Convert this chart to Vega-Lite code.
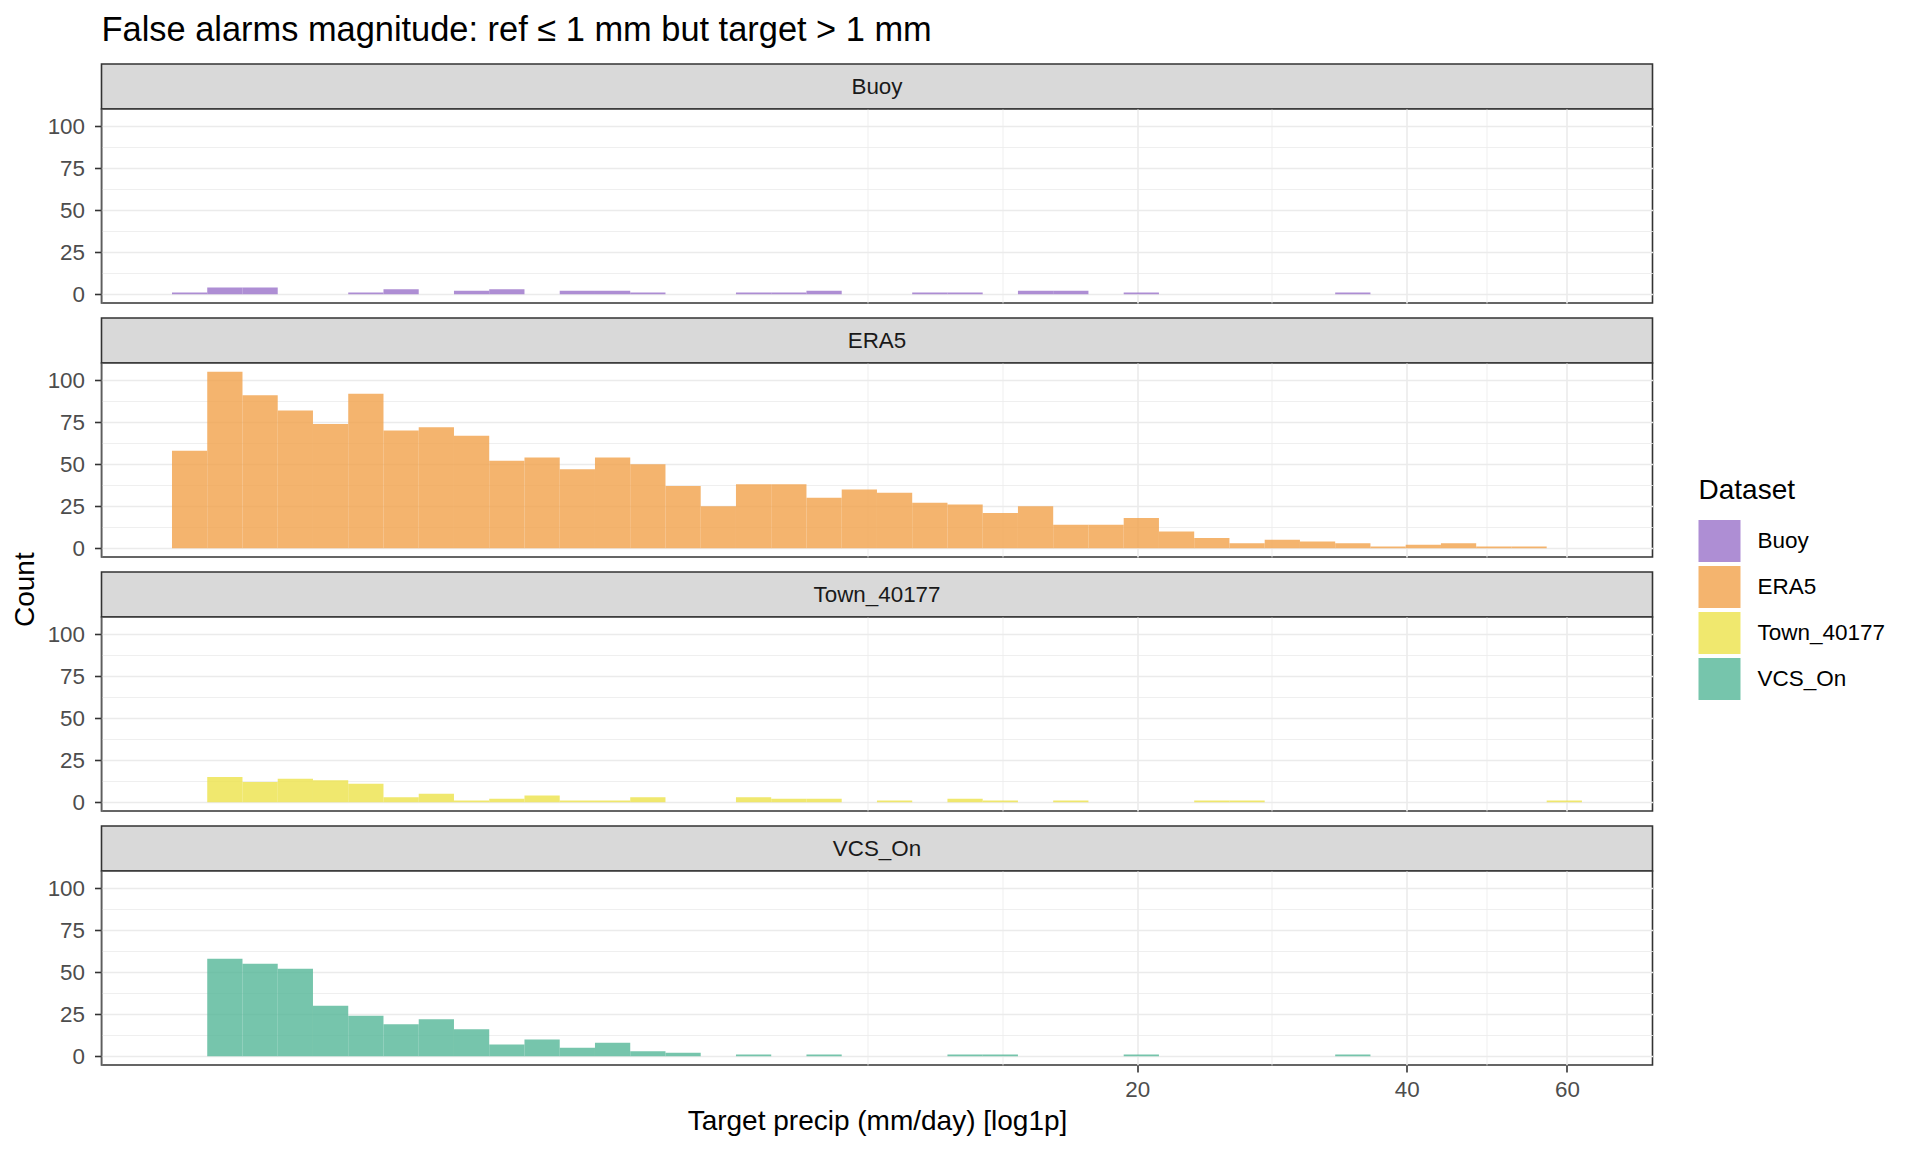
{
  "$schema": "https://vega.github.io/schema/vega-lite/v6.json",
  "padding": {"left": 11.5, "top": 12, "right": 0, "bottom": 0},
  "background": "white",
  "title": {"text": "False alarms magnitude: ref ≤ 1 mm but target > 1 mm", "anchor": "start", "frame": "group", "fontSize": 34.4, "fontWeight": "normal", "color": "black", "offset": 15},
  "datasets": {
    "bins": [
      {"Dataset": "Buoy", "x0": 0.9144, "x1": 1.0894, "count": 1},
      {"Dataset": "Buoy", "x0": 1.0894, "x1": 1.2804, "count": 4},
      {"Dataset": "Buoy", "x0": 1.2804, "x1": 1.4888, "count": 4},
      {"Dataset": "Buoy", "x0": 1.9647, "x1": 2.2357, "count": 1},
      {"Dataset": "Buoy", "x0": 2.2357, "x1": 2.5314, "count": 3},
      {"Dataset": "Buoy", "x0": 2.8542, "x1": 3.2065, "count": 2},
      {"Dataset": "Buoy", "x0": 3.2065, "x1": 3.5911, "count": 3},
      {"Dataset": "Buoy", "x0": 4.0108, "x1": 4.4688, "count": 2},
      {"Dataset": "Buoy", "x0": 4.4688, "x1": 4.9688, "count": 2},
      {"Dataset": "Buoy", "x0": 4.9688, "x1": 5.5143, "count": 1},
      {"Dataset": "Buoy", "x0": 6.7596, "x1": 7.4689, "count": 1},
      {"Dataset": "Buoy", "x0": 7.4689, "x1": 8.2430, "count": 1},
      {"Dataset": "Buoy", "x0": 8.2430, "x1": 9.0881, "count": 2},
      {"Dataset": "Buoy", "x0": 11.0164, "x1": 12.1149, "count": 1},
      {"Dataset": "Buoy", "x0": 12.1149, "x1": 13.3137, "count": 1},
      {"Dataset": "Buoy", "x0": 14.6220, "x1": 16.0501, "count": 2},
      {"Dataset": "Buoy", "x0": 16.0501, "x1": 17.6085, "count": 2},
      {"Dataset": "Buoy", "x0": 19.3097, "x1": 21.1662, "count": 1},
      {"Dataset": "Buoy", "x0": 33.3269, "x1": 36.4646, "count": 1},

      {"Dataset": "ERA5", "x0": 0.9144, "x1": 1.0894, "count": 58},
      {"Dataset": "ERA5", "x0": 1.0894, "x1": 1.2804, "count": 105},
      {"Dataset": "ERA5", "x0": 1.2804, "x1": 1.4888, "count": 91},
      {"Dataset": "ERA5", "x0": 1.4888, "x1": 1.7163, "count": 82},
      {"Dataset": "ERA5", "x0": 1.7163, "x1": 1.9647, "count": 74},
      {"Dataset": "ERA5", "x0": 1.9647, "x1": 2.2357, "count": 92},
      {"Dataset": "ERA5", "x0": 2.2357, "x1": 2.5314, "count": 70},
      {"Dataset": "ERA5", "x0": 2.5314, "x1": 2.8542, "count": 72},
      {"Dataset": "ERA5", "x0": 2.8542, "x1": 3.2065, "count": 67},
      {"Dataset": "ERA5", "x0": 3.2065, "x1": 3.5911, "count": 52},
      {"Dataset": "ERA5", "x0": 3.5911, "x1": 4.0108, "count": 54},
      {"Dataset": "ERA5", "x0": 4.0108, "x1": 4.4688, "count": 47},
      {"Dataset": "ERA5", "x0": 4.4688, "x1": 4.9688, "count": 54},
      {"Dataset": "ERA5", "x0": 4.9688, "x1": 5.5143, "count": 50},
      {"Dataset": "ERA5", "x0": 5.5143, "x1": 6.1096, "count": 37},
      {"Dataset": "ERA5", "x0": 6.1096, "x1": 6.7596, "count": 25},
      {"Dataset": "ERA5", "x0": 6.7596, "x1": 7.4689, "count": 38},
      {"Dataset": "ERA5", "x0": 7.4689, "x1": 8.2430, "count": 38},
      {"Dataset": "ERA5", "x0": 8.2430, "x1": 9.0881, "count": 30},
      {"Dataset": "ERA5", "x0": 9.0881, "x1": 10.0101, "count": 35},
      {"Dataset": "ERA5", "x0": 10.0101, "x1": 11.0164, "count": 33},
      {"Dataset": "ERA5", "x0": 11.0164, "x1": 12.1149, "count": 27},
      {"Dataset": "ERA5", "x0": 12.1149, "x1": 13.3137, "count": 26},
      {"Dataset": "ERA5", "x0": 13.3137, "x1": 14.6220, "count": 21},
      {"Dataset": "ERA5", "x0": 14.6220, "x1": 16.0501, "count": 25},
      {"Dataset": "ERA5", "x0": 16.0501, "x1": 17.6085, "count": 14},
      {"Dataset": "ERA5", "x0": 17.6085, "x1": 19.3097, "count": 14},
      {"Dataset": "ERA5", "x0": 19.3097, "x1": 21.1662, "count": 18},
      {"Dataset": "ERA5", "x0": 21.1662, "x1": 23.1924, "count": 10},
      {"Dataset": "ERA5", "x0": 23.1924, "x1": 25.4037, "count": 6},
      {"Dataset": "ERA5", "x0": 25.4037, "x1": 27.8176, "count": 3},
      {"Dataset": "ERA5", "x0": 27.8176, "x1": 30.4515, "count": 5},
      {"Dataset": "ERA5", "x0": 30.4515, "x1": 33.3269, "count": 4},
      {"Dataset": "ERA5", "x0": 33.3269, "x1": 36.4646, "count": 3},
      {"Dataset": "ERA5", "x0": 36.4646, "x1": 39.8893, "count": 1},
      {"Dataset": "ERA5", "x0": 39.8893, "x1": 43.6277, "count": 2},
      {"Dataset": "ERA5", "x0": 43.6277, "x1": 47.7071, "count": 3},
      {"Dataset": "ERA5", "x0": 47.7071, "x1": 52.1578, "count": 1},
      {"Dataset": "ERA5", "x0": 52.1578, "x1": 57.0171, "count": 1},

      {"Dataset": "Town_40177", "x0": 1.0894, "x1": 1.2804, "count": 15},
      {"Dataset": "Town_40177", "x0": 1.2804, "x1": 1.4888, "count": 12},
      {"Dataset": "Town_40177", "x0": 1.4888, "x1": 1.7163, "count": 14},
      {"Dataset": "Town_40177", "x0": 1.7163, "x1": 1.9647, "count": 13},
      {"Dataset": "Town_40177", "x0": 1.9647, "x1": 2.2357, "count": 11},
      {"Dataset": "Town_40177", "x0": 2.2357, "x1": 2.5314, "count": 3},
      {"Dataset": "Town_40177", "x0": 2.5314, "x1": 2.8542, "count": 5},
      {"Dataset": "Town_40177", "x0": 2.8542, "x1": 3.2065, "count": 1},
      {"Dataset": "Town_40177", "x0": 3.2065, "x1": 3.5911, "count": 2},
      {"Dataset": "Town_40177", "x0": 3.5911, "x1": 4.0108, "count": 4},
      {"Dataset": "Town_40177", "x0": 4.0108, "x1": 4.4688, "count": 1},
      {"Dataset": "Town_40177", "x0": 4.4688, "x1": 4.9688, "count": 1},
      {"Dataset": "Town_40177", "x0": 4.9688, "x1": 5.5143, "count": 3},
      {"Dataset": "Town_40177", "x0": 6.7596, "x1": 7.4689, "count": 3},
      {"Dataset": "Town_40177", "x0": 7.4689, "x1": 8.2430, "count": 2},
      {"Dataset": "Town_40177", "x0": 8.2430, "x1": 9.0881, "count": 2},
      {"Dataset": "Town_40177", "x0": 10.0101, "x1": 11.0164, "count": 1},
      {"Dataset": "Town_40177", "x0": 12.1149, "x1": 13.3137, "count": 2},
      {"Dataset": "Town_40177", "x0": 13.3137, "x1": 14.6220, "count": 1},
      {"Dataset": "Town_40177", "x0": 16.0501, "x1": 17.6085, "count": 1},
      {"Dataset": "Town_40177", "x0": 23.1924, "x1": 25.4037, "count": 1},
      {"Dataset": "Town_40177", "x0": 25.4037, "x1": 27.8176, "count": 1},
      {"Dataset": "Town_40177", "x0": 57.0171, "x1": 62.3202, "count": 1},

      {"Dataset": "VCS_On", "x0": 1.0894, "x1": 1.2804, "count": 58},
      {"Dataset": "VCS_On", "x0": 1.2804, "x1": 1.4888, "count": 55},
      {"Dataset": "VCS_On", "x0": 1.4888, "x1": 1.7163, "count": 52},
      {"Dataset": "VCS_On", "x0": 1.7163, "x1": 1.9647, "count": 30},
      {"Dataset": "VCS_On", "x0": 1.9647, "x1": 2.2357, "count": 24},
      {"Dataset": "VCS_On", "x0": 2.2357, "x1": 2.5314, "count": 19},
      {"Dataset": "VCS_On", "x0": 2.5314, "x1": 2.8542, "count": 22},
      {"Dataset": "VCS_On", "x0": 2.8542, "x1": 3.2065, "count": 16},
      {"Dataset": "VCS_On", "x0": 3.2065, "x1": 3.5911, "count": 7},
      {"Dataset": "VCS_On", "x0": 3.5911, "x1": 4.0108, "count": 10},
      {"Dataset": "VCS_On", "x0": 4.0108, "x1": 4.4688, "count": 5},
      {"Dataset": "VCS_On", "x0": 4.4688, "x1": 4.9688, "count": 8},
      {"Dataset": "VCS_On", "x0": 4.9688, "x1": 5.5143, "count": 3},
      {"Dataset": "VCS_On", "x0": 5.5143, "x1": 6.1096, "count": 2},
      {"Dataset": "VCS_On", "x0": 6.7596, "x1": 7.4689, "count": 1},
      {"Dataset": "VCS_On", "x0": 8.2430, "x1": 9.0881, "count": 1},
      {"Dataset": "VCS_On", "x0": 12.1149, "x1": 13.3137, "count": 1},
      {"Dataset": "VCS_On", "x0": 13.3137, "x1": 14.6220, "count": 1},
      {"Dataset": "VCS_On", "x0": 19.3097, "x1": 21.1662, "count": 1},
      {"Dataset": "VCS_On", "x0": 33.3269, "x1": 36.4646, "count": 1}
    ]
  },
  "vconcat": [
    {
      "title": {"text": "Count", "orient": "left", "anchor": "middle", "fontSize": 28, "fontWeight": "normal", "color": "black", "offset": 6, "dx": 10},
      "spacing": 10,
      "resolve": {"scale": {"color": "shared"}, "legend": {"color": "shared"}},
      "vconcat": [
        {
          "bounds": "flush", "spacing": 0,
          "resolve": {"scale": {"color": "shared"}, "legend": {"color": "shared"}},
          "vconcat": [
            {
              "width": 1551, "height": 45,
              "view": {"fill": "#D9D9D9", "stroke": "#333333", "strokeWidth": 1.6},
              "data": {"values": [{"Dataset": "Buoy"}]},
              "mark": {"type": "text", "fontSize": 22.4, "color": "#1A1A1A", "baseline": "middle"},
              "encoding": {"text": {"field": "Dataset"}}
            },
            {
              "width": 1551, "height": 194,
              "view": {"fill": "white", "stroke": "#333333", "strokeWidth": 1.6},
              "data": {"name": "bins"},
              "transform": [{"filter": "datum.Dataset === 'Buoy'"}],
              "mark": {"type": "bar", "opacity": 0.8},
              "encoding": {
                "x": {"field": "x0", "type": "quantitative",
                  "scale": {"type": "symlog", "constant": 1, "domain": [0.6072, 74.44], "nice": false, "zero": false},
                  "axis": {"values": [9.756, 14.029, 20, 28.343, 40, 49.01, 60], "labels": false, "ticks": false, "domain": false, "title": null, "grid": true, "gridColor": "#EBEBEB", "gridWidth": {"condition": {"test": "datum.value === 20 || datum.value === 40 || datum.value === 60", "value": 1.6}, "value": 0.8}, "zindex": 0}},
                "x2": {"field": "x1"},
                "y": {"field": "count", "type": "quantitative",
                  "scale": {"domain": [-5.25, 110.25], "nice": false, "zero": false},
                  "axis": {"values": [0, 12.5, 25, 37.5, 50, 62.5, 75, 87.5, 100], "labelExpr": "datum.value % 25 === 0 ? datum.label : ''", "title": null, "grid": true, "gridColor": "#EBEBEB", "gridWidth": {"condition": {"test": "datum.value % 25 === 0", "value": 1.6}, "value": 0.8}, "tickOpacity": {"condition": {"test": "datum.value % 25 === 0", "value": 1}, "value": 0}, "zindex": 0}},
                "y2": {"datum": 0},
                "color": {"field": "Dataset", "type": "nominal",
                  "scale": {"domain": ["Buoy", "ERA5", "Town_40177", "VCS_On"], "range": ["#9A72C9", "#F1A14A", "#ECE24A", "#54B697"]},
                  "legend": {"orient": "none", "legendX": 1597, "legendY": 413, "title": "Dataset", "titleFontSize": 28, "titleFontWeight": "normal", "titleColor": "black", "titlePadding": 15, "labelFontSize": 22.5, "labelColor": "black", "symbolType": "square", "symbolSize": 1764, "symbolStrokeWidth": 0, "symbolOpacity": 0.8, "labelOffset": 17, "rowPadding": 4, "padding": 0}}
              }
            }
          ]
        },
        {
          "bounds": "flush", "spacing": 0,
          "resolve": {"scale": {"color": "shared"}, "legend": {"color": "shared"}},
          "vconcat": [
            {
              "width": 1551, "height": 45,
              "view": {"fill": "#D9D9D9", "stroke": "#333333", "strokeWidth": 1.6},
              "data": {"values": [{"Dataset": "ERA5"}]},
              "mark": {"type": "text", "fontSize": 22.4, "color": "#1A1A1A", "baseline": "middle"},
              "encoding": {"text": {"field": "Dataset"}}
            },
            {
              "width": 1551, "height": 194,
              "view": {"fill": "white", "stroke": "#333333", "strokeWidth": 1.6},
              "data": {"name": "bins"},
              "transform": [{"filter": "datum.Dataset === 'ERA5'"}],
              "mark": {"type": "bar", "opacity": 0.8},
              "encoding": {
                "x": {"field": "x0", "type": "quantitative",
                  "scale": {"type": "symlog", "constant": 1, "domain": [0.6072, 74.44], "nice": false, "zero": false},
                  "axis": {"values": [9.756, 14.029, 20, 28.343, 40, 49.01, 60], "labels": false, "ticks": false, "domain": false, "title": null, "grid": true, "gridColor": "#EBEBEB", "gridWidth": {"condition": {"test": "datum.value === 20 || datum.value === 40 || datum.value === 60", "value": 1.6}, "value": 0.8}, "zindex": 0}},
                "x2": {"field": "x1"},
                "y": {"field": "count", "type": "quantitative",
                  "scale": {"domain": [-5.25, 110.25], "nice": false, "zero": false},
                  "axis": {"values": [0, 12.5, 25, 37.5, 50, 62.5, 75, 87.5, 100], "labelExpr": "datum.value % 25 === 0 ? datum.label : ''", "title": null, "grid": true, "gridColor": "#EBEBEB", "gridWidth": {"condition": {"test": "datum.value % 25 === 0", "value": 1.6}, "value": 0.8}, "tickOpacity": {"condition": {"test": "datum.value % 25 === 0", "value": 1}, "value": 0}, "zindex": 0}},
                "y2": {"datum": 0},
                "color": {"field": "Dataset", "type": "nominal",
                  "scale": {"domain": ["Buoy", "ERA5", "Town_40177", "VCS_On"], "range": ["#9A72C9", "#F1A14A", "#ECE24A", "#54B697"]},
                  "legend": {"orient": "none", "legendX": 1597, "legendY": 413, "title": "Dataset", "titleFontSize": 28, "titleFontWeight": "normal", "titleColor": "black", "titlePadding": 15, "labelFontSize": 22.5, "labelColor": "black", "symbolType": "square", "symbolSize": 1764, "symbolStrokeWidth": 0, "symbolOpacity": 0.8, "labelOffset": 17, "rowPadding": 4, "padding": 0}}
              }
            }
          ]
        },
        {
          "bounds": "flush", "spacing": 0,
          "resolve": {"scale": {"color": "shared"}, "legend": {"color": "shared"}},
          "vconcat": [
            {
              "width": 1551, "height": 45,
              "view": {"fill": "#D9D9D9", "stroke": "#333333", "strokeWidth": 1.6},
              "data": {"values": [{"Dataset": "Town_40177"}]},
              "mark": {"type": "text", "fontSize": 22.4, "color": "#1A1A1A", "baseline": "middle"},
              "encoding": {"text": {"field": "Dataset"}}
            },
            {
              "width": 1551, "height": 194,
              "view": {"fill": "white", "stroke": "#333333", "strokeWidth": 1.6},
              "data": {"name": "bins"},
              "transform": [{"filter": "datum.Dataset === 'Town_40177'"}],
              "mark": {"type": "bar", "opacity": 0.8},
              "encoding": {
                "x": {"field": "x0", "type": "quantitative",
                  "scale": {"type": "symlog", "constant": 1, "domain": [0.6072, 74.44], "nice": false, "zero": false},
                  "axis": {"values": [9.756, 14.029, 20, 28.343, 40, 49.01, 60], "labels": false, "ticks": false, "domain": false, "title": null, "grid": true, "gridColor": "#EBEBEB", "gridWidth": {"condition": {"test": "datum.value === 20 || datum.value === 40 || datum.value === 60", "value": 1.6}, "value": 0.8}, "zindex": 0}},
                "x2": {"field": "x1"},
                "y": {"field": "count", "type": "quantitative",
                  "scale": {"domain": [-5.25, 110.25], "nice": false, "zero": false},
                  "axis": {"values": [0, 12.5, 25, 37.5, 50, 62.5, 75, 87.5, 100], "labelExpr": "datum.value % 25 === 0 ? datum.label : ''", "title": null, "grid": true, "gridColor": "#EBEBEB", "gridWidth": {"condition": {"test": "datum.value % 25 === 0", "value": 1.6}, "value": 0.8}, "tickOpacity": {"condition": {"test": "datum.value % 25 === 0", "value": 1}, "value": 0}, "zindex": 0}},
                "y2": {"datum": 0},
                "color": {"field": "Dataset", "type": "nominal",
                  "scale": {"domain": ["Buoy", "ERA5", "Town_40177", "VCS_On"], "range": ["#9A72C9", "#F1A14A", "#ECE24A", "#54B697"]},
                  "legend": {"orient": "none", "legendX": 1597, "legendY": 413, "title": "Dataset", "titleFontSize": 28, "titleFontWeight": "normal", "titleColor": "black", "titlePadding": 15, "labelFontSize": 22.5, "labelColor": "black", "symbolType": "square", "symbolSize": 1764, "symbolStrokeWidth": 0, "symbolOpacity": 0.8, "labelOffset": 17, "rowPadding": 4, "padding": 0}}
              }
            }
          ]
        },
        {
          "bounds": "flush", "spacing": 0,
          "resolve": {"scale": {"color": "shared"}, "legend": {"color": "shared"}},
          "vconcat": [
            {
              "width": 1551, "height": 45,
              "view": {"fill": "#D9D9D9", "stroke": "#333333", "strokeWidth": 1.6},
              "data": {"values": [{"Dataset": "VCS_On"}]},
              "mark": {"type": "text", "fontSize": 22.4, "color": "#1A1A1A", "baseline": "middle"},
              "encoding": {"text": {"field": "Dataset"}}
            },
            {
              "width": 1551, "height": 194,
              "view": {"fill": "white", "stroke": "#333333", "strokeWidth": 1.6},
              "data": {"name": "bins"},
              "transform": [{"filter": "datum.Dataset === 'VCS_On'"}],
              "mark": {"type": "bar", "opacity": 0.8},
              "encoding": {
                "x": {"field": "x0", "type": "quantitative",
                  "scale": {"type": "symlog", "constant": 1, "domain": [0.6072, 74.44], "nice": false, "zero": false},
                  "axis": {"values": [9.756, 14.029, 20, 28.343, 40, 49.01, 60], "labelExpr": "(datum.value === 20 || datum.value === 40 || datum.value === 60) ? datum.label : ''", "ticks": true, "tickOpacity": {"condition": {"test": "datum.value === 20 || datum.value === 40 || datum.value === 60", "value": 1}, "value": 0}, "labelPadding": 6, "domain": false, "title": "Target precip (mm/day) [log1p]", "titlePadding": 7, "grid": true, "gridColor": "#EBEBEB", "gridWidth": {"condition": {"test": "datum.value === 20 || datum.value === 40 || datum.value === 60", "value": 1.6}, "value": 0.8}, "zindex": 0}},
                "x2": {"field": "x1"},
                "y": {"field": "count", "type": "quantitative",
                  "scale": {"domain": [-5.25, 110.25], "nice": false, "zero": false},
                  "axis": {"values": [0, 12.5, 25, 37.5, 50, 62.5, 75, 87.5, 100], "labelExpr": "datum.value % 25 === 0 ? datum.label : ''", "title": null, "grid": true, "gridColor": "#EBEBEB", "gridWidth": {"condition": {"test": "datum.value % 25 === 0", "value": 1.6}, "value": 0.8}, "tickOpacity": {"condition": {"test": "datum.value % 25 === 0", "value": 1}, "value": 0}, "zindex": 0}},
                "y2": {"datum": 0},
                "color": {"field": "Dataset", "type": "nominal",
                  "scale": {"domain": ["Buoy", "ERA5", "Town_40177", "VCS_On"], "range": ["#9A72C9", "#F1A14A", "#ECE24A", "#54B697"]},
                  "legend": {"orient": "none", "legendX": 1597, "legendY": 413, "title": "Dataset", "titleFontSize": 28, "titleFontWeight": "normal", "titleColor": "black", "titlePadding": 15, "labelFontSize": 22.5, "labelColor": "black", "symbolType": "square", "symbolSize": 1764, "symbolStrokeWidth": 0, "symbolOpacity": 0.8, "labelOffset": 17, "rowPadding": 4, "padding": 0}}
              }
            }
          ]
        }
      ]
    }
  ],
  "resolve": {"scale": {"color": "shared"}, "legend": {"color": "shared"}},
  "config": {
    "font": "Liberation Sans",
    "axis": {
      "labelFont": "Liberation Sans", "labelFontSize": 22.4, "labelColor": "#4D4D4D", "labelPadding": 10,
      "labelOverlap": false, "labelFlush": false,
      "tickColor": "#333333", "tickSize": 7, "tickWidth": 1.6,
      "titleFont": "Liberation Sans", "titleFontSize": 28, "titleFontWeight": "normal", "titleColor": "black"
    },
    "legend": {"labelFont": "Liberation Sans", "titleFont": "Liberation Sans"},
    "title": {"font": "Liberation Sans"}
  }
}
